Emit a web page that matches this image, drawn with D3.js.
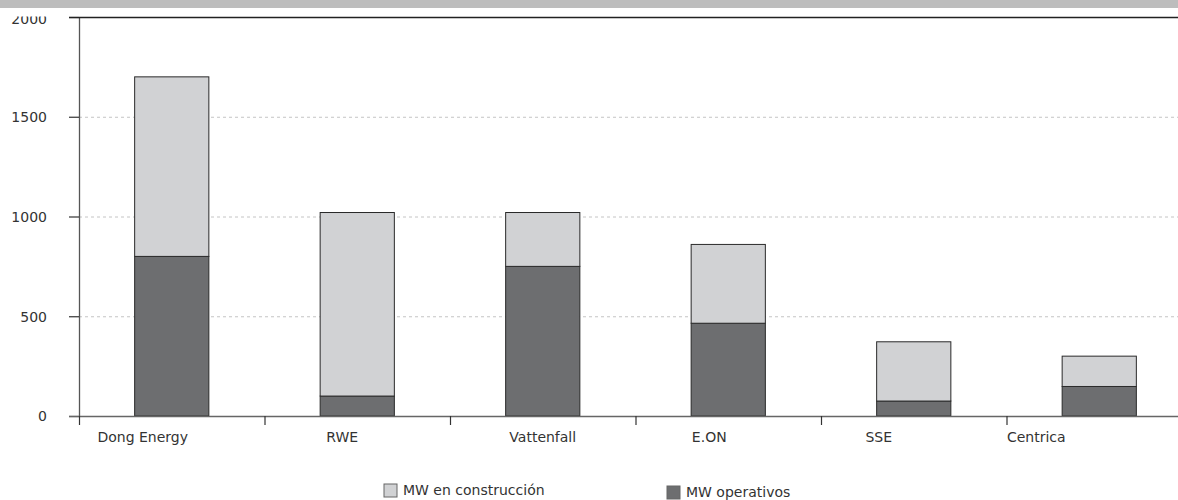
<!DOCTYPE html>
<html>
<head>
<meta charset="utf-8">
<script src="https://cdn.jsdelivr.net/npm/d3@7"></script>
<style>
  body { margin: 0; background: #fff; }
  svg { display: block; font-family: "DejaVu Sans", sans-serif; }
  .lbl { font-size: 14px; fill: #333; }
</style>
</head>
<body>
<script>
// empresas y MW (lectura del grafico)
var empresas = ["Dong Energy", "RWE", "Vattenfall", "E.ON", "SSE", "Centrica"];
var operativos = [800, 100, 750, 465, 75, 148];
var construccion = [900, 920, 270, 395, 297, 152];
var yTicks = [0, 500, 1000, 1500, 2000];
var series = ["MW en construcción", "MW operativos"];

var W = 1178, H = 500;
var color = {"MW operativos": "#6d6e70", "MW en construcción": "#d1d2d4"};

var svg = d3.select("body").append("svg").attr("width", W).attr("height", H);

var x = d3.scaleBand().domain(empresas).range([79, 1192])
  .paddingInner(0.6).paddingOuter(0.3);
var y = d3.scaleLinear().domain([0, 2000]).range([416, 17]);

// grid
svg.selectAll(".grid").data(yTicks.filter(d => d > 0 && d < 2000)).enter()
  .append("line")
  .attr("x1", 79).attr("x2", W)
  .attr("y1", d => y(d) + 0.5).attr("y2", d => y(d) + 0.5)
  .attr("stroke", "#c4c4c4").attr("stroke-dasharray", "3,3");

// stacked bars
var rows = empresas.map((e, i) => ({empresa: e, "MW operativos": operativos[i], "MW en construcción": construccion[i]}));
var stack = d3.stack().keys(["MW operativos", "MW en construcción"])(rows);

svg.selectAll(".serie").data(stack).enter().append("g")
  .attr("fill", d => color[d.key])
  .selectAll("rect").data(d => d).enter().append("rect")
  .attr("x", d => x(d.data.empresa))
  .attr("width", x.bandwidth())
  .attr("y", d => y(d[1]))
  .attr("height", d => y(d[0]) - y(d[1]))
  .attr("stroke", "#2a2a2a").attr("stroke-width", 1);

// y axis
var step = x.step();
svg.append("line").attr("x1", 79.5).attr("x2", 79.5).attr("y1", 17).attr("y2", 416)
  .attr("stroke", "#555").attr("stroke-width", 1.3);
svg.selectAll(".ytick").data(yTicks).enter().append("line")
  .attr("x1", 69).attr("x2", 79).attr("y1", d => y(d) + 0.5).attr("y2", d => y(d) + 0.5)
  .attr("stroke", "#333").attr("stroke-width", 1.2);
svg.selectAll(".ylab").data(yTicks).enter().append("text")
  .attr("class", "lbl")
  .attr("x", 47).attr("y", d => y(d)).attr("dy", d => d == 2000 ? "0.5em" : "0.38em")
  .attr("text-anchor", "end")
  .text(d => d);

// x axis
svg.append("line").attr("x1", 69).attr("x2", W).attr("y1", 416.5).attr("y2", 416.5)
  .attr("stroke", "#666").attr("stroke-width", 1.3);
svg.selectAll(".xtick").data(empresas).enter().append("line")
  .attr("x1", d => x(d) - step * 0.3 + 0.5).attr("x2", d => x(d) - step * 0.3 + 0.5)
  .attr("y1", 416).attr("y2", 425)
  .attr("stroke", "#333").attr("stroke-width", 1.2);

// the labels in the original sit a bit left of the bar centres
var nudge = [-29, -15, 0, -19, -35, -63];
svg.selectAll(".xlab").data(empresas).enter().append("text")
  .attr("class", "lbl")
  .attr("x", (d, i) => x(d) + x.bandwidth() / 2 + nudge[i])
  .attr("y", 442)
  .attr("text-anchor", "middle")
  .text(d => d);

// top frame: white clip, grey band, top rule
svg.append("rect").attr("x", 0).attr("y", 0).attr("width", W).attr("height", 16.5).attr("fill", "#fff");
svg.append("rect").attr("x", 0).attr("y", 0).attr("width", W).attr("height", 8).attr("fill", "#bdbdbd");
svg.append("line").attr("x1", 69).attr("x2", W).attr("y1", 17.5).attr("y2", 17.5)
  .attr("stroke", "#222").attr("stroke-width", 1.5);

// legend
var legPos = [{x: 384, y: 484}, {x: 667, y: 486}];
var leg = svg.selectAll(".leg").data(series).enter().append("g")
  .attr("transform", (d, i) => "translate(" + legPos[i].x + "," + legPos[i].y + ")");
leg.append("rect").attr("width", 13).attr("height", 13)
  .attr("fill", d => color[d]).attr("stroke", "#666").attr("stroke-width", 1);
leg.append("text").attr("class", "lbl").attr("x", 19).attr("y", 11).text(d => d);
</script>
</body>
</html>
